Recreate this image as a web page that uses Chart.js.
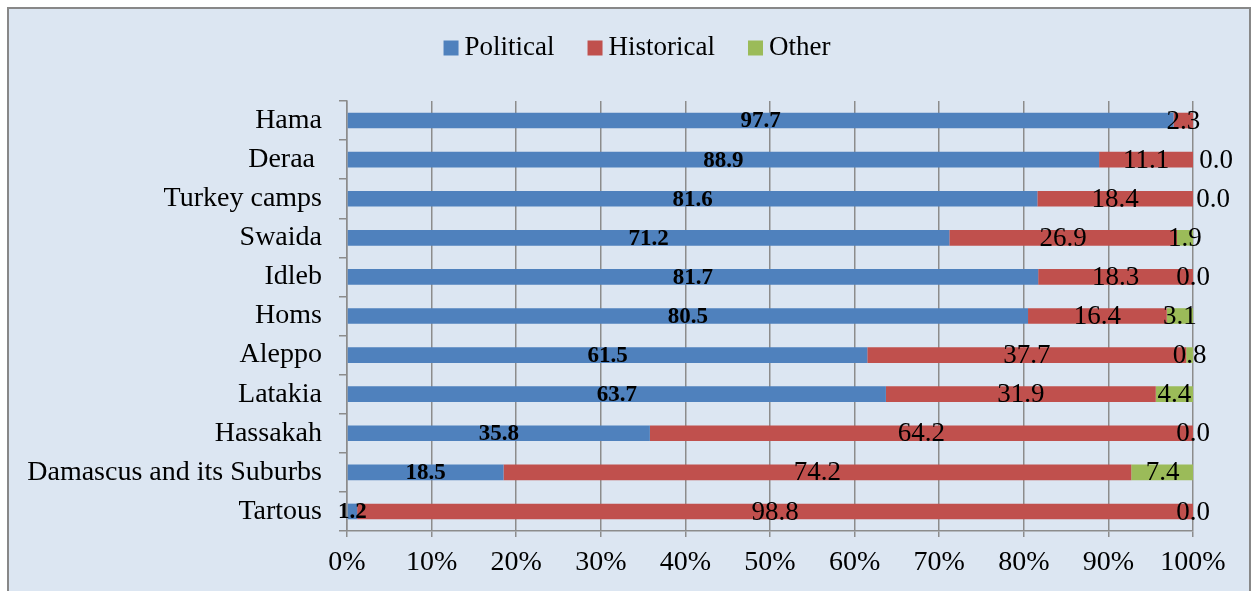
<!DOCTYPE html>
<html>
<head>
<meta charset="utf-8">
<title>Political / Historical / Other by region</title>
<script src="https://cdn.jsdelivr.net/npm/chart.js@4.4.1/dist/chart.umd.min.js"></script>
<style>
  html, body { margin: 0; padding: 0; background: #ffffff; overflow: hidden; }
  canvas { display: block; }
</style>
</head>
<body>
<canvas id="chart" width="1257" height="591"></canvas>
<script>
// Regions, top to bottom
const regions = ['Hama', 'Deraa ', 'Turkey camps', 'Swaida', 'Idleb', 'Homs', 'Aleppo',
                 'Latakia', 'Hassakah', 'Damascus and its Suburbs', 'Tartous'];

// Share of each category (%)
const political  = [97.7, 88.9, 81.6, 71.2, 81.7, 80.5, 61.5, 63.7, 35.8, 18.5, 1.2];
const historical = [2.3, 11.1, 18.4, 26.9, 18.3, 16.4, 37.7, 31.9, 64.2, 74.2, 98.8];
const other      = [null, 0.0, 0.0, 1.9, 0.0, 3.1, 0.8, 4.4, 0.0, 7.4, 0.0];

// Value axis tick labels
const percentTicks = ['0%', '10%', '20%', '30%', '40%', '50%', '60%', '70%', '80%', '90%', '100%'];

const SERIF = "'Liberation Serif', 'Times New Roman', serif";
const GRID = '#8c8c8c';

// Panel background with a grey frame
const framePlugin = {
  id: 'frame',
  beforeDraw(chart) {
    const ctx = chart.ctx;
    ctx.save();
    ctx.fillStyle = '#ffffff';
    ctx.fillRect(0, 0, chart.width, chart.height);
    ctx.fillStyle = '#dce6f2';
    ctx.fillRect(8, 8, 1242, chart.height);
    ctx.strokeStyle = '#888888';
    ctx.lineWidth = 2;
    ctx.strokeRect(8, 8, 1242, chart.height + 10);
    ctx.restore();
  }
};

// Legend row across the top, built from the datasets
const legendRow = {
  id: 'legendRow',
  afterDraw(chart) {
    const ctx = chart.ctx;
    const box = 15, gap = 6, spacing = 33, cy = 48, centerX = 637;
    ctx.save();
    ctx.font = '27px ' + SERIF;
    const items = chart.data.datasets.map(ds => ({
      text: ds.label, color: ds.backgroundColor, w: ctx.measureText(ds.label).width
    }));
    const total = items.reduce((s, it) => s + box + gap + it.w, 0) + spacing * (items.length - 1);
    let x = centerX - total / 2;
    ctx.textBaseline = 'middle';
    ctx.textAlign = 'left';
    items.forEach(it => {
      ctx.fillStyle = it.color;
      ctx.fillRect(x, cy - box / 2, box, box);
      ctx.fillStyle = '#000000';
      ctx.fillText(it.text, x + box + gap, cy);
      x += box + gap + it.w + spacing;
    });
    ctx.restore();
  }
};

// Value labels centred on each segment
const segmentLabels = {
  id: 'segmentLabels',
  afterDatasetsDraw(chart, args, opts) {
    const ctx = chart.ctx;
    ctx.save();
    ctx.textAlign = 'center';
    ctx.textBaseline = 'middle';
    ctx.fillStyle = '#000000';
    chart.data.datasets.forEach((ds, di) => {
      const meta = chart.getDatasetMeta(di);
      ctx.font = (di === 0 ? 'bold 23px ' : '27px ') + SERIF;
      meta.data.forEach((el, i) => {
        const v = ds.data[i];
        if (v === null || v === undefined) return;
        let x = (el.x + el.base) / 2;
        if (di === 2) x += (opts.nudge[chart.data.labels[i]] || 0);
        ctx.fillText(v.toFixed(1), x, el.y + 1);
      });
    });
    ctx.restore();
  }
};

new Chart(document.getElementById('chart'), {
  type: 'bar',
  data: {
    labels: regions,
    datasets: [
      { label: 'Political',  data: political,  backgroundColor: '#4f81bd' },
      { label: 'Historical', data: historical, backgroundColor: '#c0504d' },
      { label: 'Other',      data: other,      backgroundColor: '#9bbb59' }
    ]
  },
  options: {
    indexAxis: 'y',
    responsive: false,
    animation: false,
    devicePixelRatio: 1,
    categoryPercentage: 1,
    barPercentage: 0.4,
    layout: { padding: { left: 0, right: 64, top: 101, bottom: 0 } },
    plugins: {
      legend: { display: false },
      tooltip: { enabled: false },
      segmentLabels: { nudge: { 'Deraa ': 23, 'Turkey camps': 20 } }
    },
    scales: {
      x: {
        stacked: true,
        min: 0,
        max: 100,
        ticks: {
          stepSize: 10,
          padding: 9,
          color: '#000000',
          font: { family: SERIF, size: 28 },
          callback: (v, i) => percentTicks[i]
        },
        grid: { color: GRID, lineWidth: 1.5, tickLength: 6, drawTicks: true },
        border: { color: GRID, width: 1.5 },
        afterFit(scale) { scale.height = 60; }
      },
      y: {
        stacked: true,
        offset: true,
        ticks: {
          padding: 17,
          color: '#000000',
          font: { family: SERIF, size: 28 }
        },
        grid: { offset: true, drawOnChartArea: false, color: GRID, lineWidth: 1.5, tickLength: 8 },
        border: { color: GRID, width: 1.5 },
        afterFit(scale) { scale.width = 347; }
      }
    }
  },
  plugins: [framePlugin, legendRow, segmentLabels]
});
</script>
</body>
</html>
